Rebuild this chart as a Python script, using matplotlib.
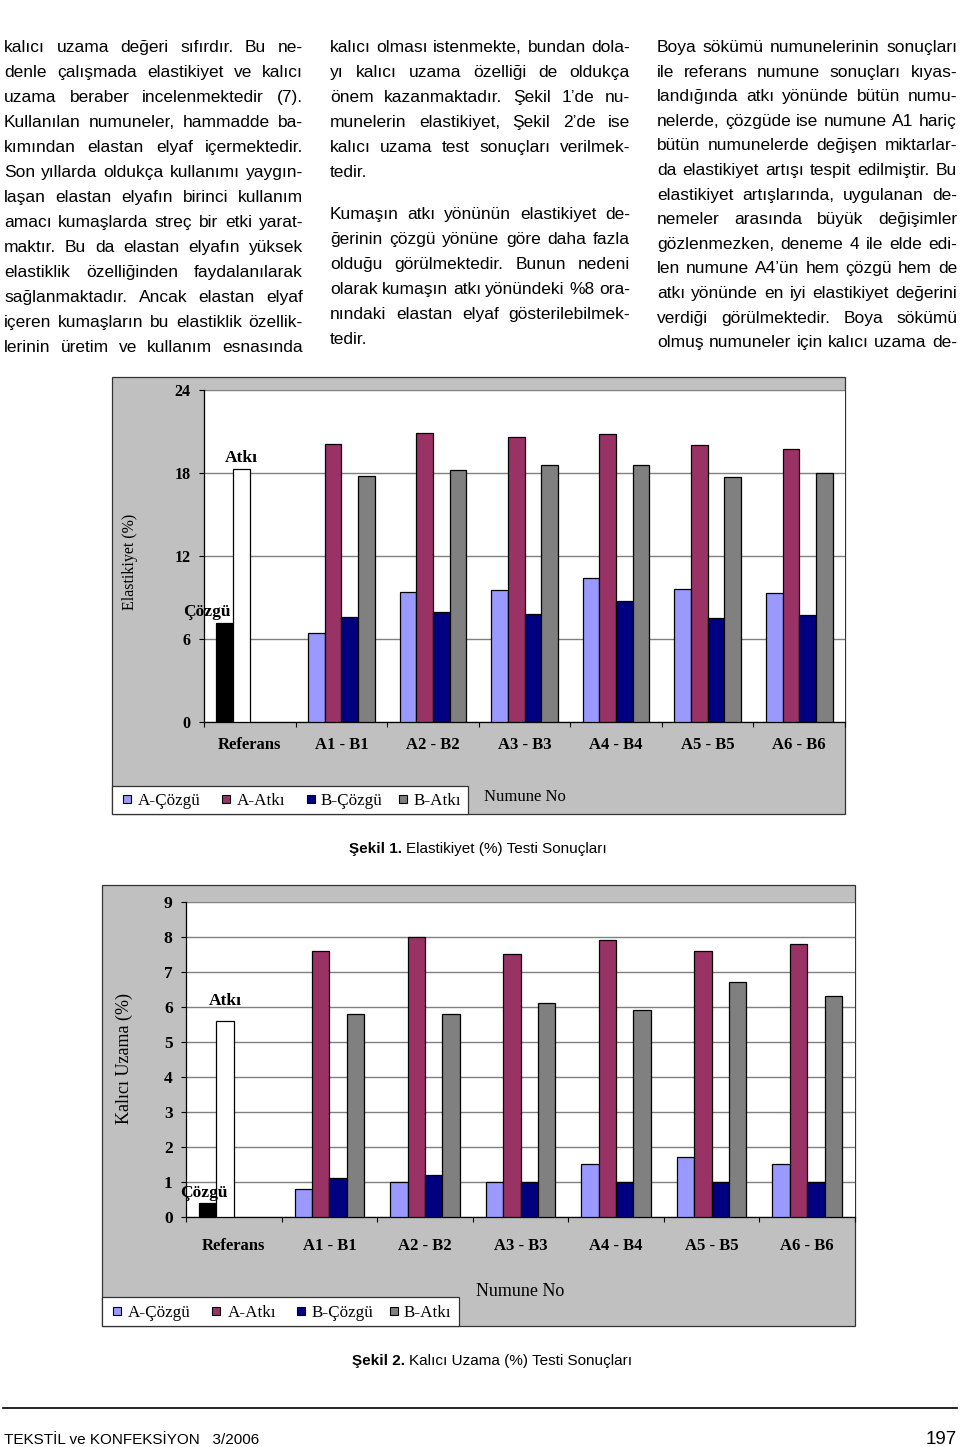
import numpy as np
import matplotlib
matplotlib.use("Agg")
import matplotlib.pyplot as plt
from matplotlib.patches import Rectangle
from matplotlib.lines import Line2D
from matplotlib.font_manager import FontProperties, fontManager

# ---------------- data ----------------
categories = ["Referans", "A1 - B1", "A2 - B2", "A3 - B3", "A4 - B4", "A5 - B5", "A6 - B6"]
series_names = ["A-Çözgü", "A-Atkı", "B-Çözgü", "B-Atkı"]
series_colors = ["#9999FF", "#993366", "#000080", "#808080"]

# Şekil 1 – Elastikiyet (%)
elast_ref_cozgu = 7.1
elast_ref_atki = 18.3
elast_a_cozgu = [6.4, 9.4, 9.5, 10.4, 9.6, 9.3]
elast_a_atki = [20.1, 20.9, 20.6, 20.8, 20.0, 19.7]
elast_b_cozgu = [7.6, 7.9, 7.8, 8.7, 7.5, 7.7]
elast_b_atki = [17.8, 18.2, 18.6, 18.6, 17.7, 18.0]
elast_yticks = [0, 6, 12, 18, 24]

# Şekil 2 – Kalıcı Uzama (%)
kalici_ref_cozgu = 0.4
kalici_ref_atki = 5.6
kalici_a_cozgu = [0.8, 1.0, 1.0, 1.5, 1.7, 1.5]
kalici_a_atki = [7.6, 8.0, 7.5, 7.9, 7.6, 7.8]
kalici_b_cozgu = [1.1, 1.2, 1.0, 1.0, 1.0, 1.0]
kalici_b_atki = [5.8, 5.8, 6.1, 5.9, 6.7, 6.3]
kalici_yticks = list(range(0, 10))

col1 = [
    "kalıcı uzama değeri sıfırdır. Bu ne-",
    "denle çalışmada elastikiyet ve kalıcı",
    "uzama beraber incelenmektedir (7).",
    "Kullanılan numuneler, hammadde ba-",
    "kımından elastan elyaf içermektedir.",
    "Son yıllarda oldukça kullanımı yaygın-",
    "laşan elastan elyafın birinci kullanım",
    "amacı kumaşlarda streç bir etki yarat-",
    "maktır. Bu da elastan elyafın yüksek",
    "elastiklik özelliğinden faydalanılarak",
    "sağlanmaktadır. Ancak elastan elyaf",
    "içeren kumaşların bu elastiklik özellik-",
    "lerinin üretim ve kullanım esnasında",
]
col2a = [
    "kalıcı olması istenmekte, bundan dola-",
    "yı kalıcı uzama özelliği de oldukça",
    "önem kazanmaktadır. Şekil 1’de nu-",
    "munelerin elastikiyet, Şekil 2’de ise",
    "kalıcı uzama test sonuçları verilmek-",
    "tedir.",
]
col2b = [
    "Kumaşın atkı yönünün elastikiyet de-",
    "ğerinin çözgü yönüne göre daha fazla",
    "olduğu görülmektedir. Bunun nedeni",
    "olarak kumaşın atkı yönündeki %8 ora-",
    "nındaki elastan elyaf gösterilebilmek-",
    "tedir.",
]
col3 = [
    "Boya sökümü numunelerinin sonuçları",
    "ile referans numune sonuçları kıyas-",
    "landığında atkı yönünde bütün numu-",
    "nelerde, çözgüde ise numune A1 hariç",
    "bütün numunelerde değişen miktarlar-",
    "da elastikiyet artışı tespit edilmiştir. Bu",
    "elastikiyet artışlarında, uygulanan de-",
    "nemeler arasında büyük değişimler",
    "gözlenmezken, deneme 4 ile elde edi-",
    "len numune A4’ün hem çözgü hem de",
    "atkı yönünde en iyi elastikiyet değerini",
    "verdiği görülmektedir. Boya sökümü",
    "olmuş numuneler için kalıcı uzama de-",
]

# ---------------- figure ----------------
W, H = 960, 1447
fig = plt.figure(figsize=(W / 100, H / 100), dpi=100)
fig.patch.set_facecolor("white")
renderer = fig.canvas.get_renderer()

SANS = "Liberation Sans"
SERIF = "Liberation Serif"
names = {f.name for f in fontManager.ttflist}
NARROW = "Liberation Sans Narrow" if "Liberation Sans Narrow" in names else None


def fx(x):
    return x / W


def fy(y):
    return 1 - y / H


def tw(s, fp):
    w, h, d = renderer.get_text_width_height_descent(s, fp, ismath=False)
    return w


body_fp = FontProperties(family=SANS, size=12.5)


def draw_lines(lines, x0, x1, ys, justify_last=True):
    n = len(lines)
    for i, (line, y) in enumerate(zip(lines, ys)):
        words = line.split(" ")
        last = (i == n - 1) and not justify_last
        widths = [tw(wd, body_fp) for wd in words]
        if len(words) > 1 and not last:
            gap = (x1 - x0 - sum(widths)) / (len(words) - 1)
        else:
            gap = tw("a b", body_fp) - tw("ab", body_fp)
        x = x0
        for wd, wdt in zip(words, widths):
            fig.text(fx(x), fy(y), wd, fontproperties=body_fp, ha="left",
                     va="baseline", color="black")
            x += wdt + gap


base_off = 6
draw_lines(col1, 4, 303, [46 + 25 * i + base_off for i in range(13)])
draw_lines(col2a, 330, 630, [46 + 25 * i + base_off for i in range(6)], justify_last=False)
draw_lines(col2b, 330, 630, [213 + 25 * i + base_off for i in range(6)], justify_last=False)
draw_lines(col3, 657, 957, [46 + 24.6 * i + base_off for i in range(13)])


# ---------------- charts ----------------
def make_chart(panel, plot, ref_c, ref_a, a_c, a_a, b_c, b_a, yticks, ylabel,
               ylabel_pos, ylabel_size, tick_size, legend_box, legend_sq, legend_tx,
               legend_y, numune_pos, numune_size, atki_off, cozgu_off, xpad):
    px0, py0, px1, py1 = panel
    fig.add_artist(Rectangle((fx(px0), fy(py1)), fx(px1 - px0), (py1 - py0) / H,
                             transform=fig.transFigure, facecolor="#C0C0C0",
                             edgecolor="#333333", lw=0.9, zorder=-5))
    l, t, r, b = plot
    ax = fig.add_axes([fx(l), fy(b), fx(r - l), (b - t) / H])
    ax.set_facecolor("white")
    w = 1 / 5.5
    groups = np.arange(1, len(categories))
    all_series = [a_c, a_a, b_c, b_a]
    for i, (vals, col) in enumerate(zip(all_series, series_colors)):
        ax.bar(groups + (i - 1.5) * w, vals, width=w, color=col, edgecolor="black",
               lw=0.9, zorder=3)
    # reference bars (Çözgü black, Atkı white) in the first two slots
    ax.bar([0 - 1.5 * w], [ref_c], width=w, color="black", edgecolor="black", lw=0.9, zorder=3)
    ax.bar([0 - 0.5 * w], [ref_a], width=w, color="white", edgecolor="black", lw=0.9, zorder=3)
    ann_fp = FontProperties(family=SERIF, weight="bold", size=12.5)
    ax.annotate("Atkı", xy=(0 - 0.5 * w, ref_a), xytext=atki_off, textcoords="offset points",
                ha="center", va="baseline", fontproperties=ann_fp, zorder=5)
    ax.annotate("Çözgü", xy=(0 - 1.5 * w, ref_c), xytext=cozgu_off, textcoords="offset points",
                ha="center", va="baseline", fontproperties=ann_fp, zorder=5)

    ax.set_xlim(-0.5, len(categories) - 0.5)
    ax.set_ylim(yticks[0], yticks[-1])
    ax.set_yticks(yticks)
    ax.set_yticklabels([str(v) for v in yticks])
    for lab in ax.get_yticklabels():
        lab.set_fontproperties(FontProperties(family=SERIF, weight="bold", size=tick_size))
    ax.yaxis.grid(True, color="#808080", lw=1.0, zorder=1)
    ax.set_axisbelow(True)
    ax.tick_params(axis="y", direction="out", length=3.6, width=0.8, pad=6, colors="black")
    ax.set_xticks(np.arange(-0.5, len(categories), 1.0))
    ax.set_xticklabels([])
    ax.set_xticks(np.arange(len(categories)), minor=True)
    ax.set_xticklabels(categories, minor=True)
    for lab in ax.get_xticklabels(minor=True):
        lab.set_fontproperties(FontProperties(family=SERIF, weight="bold", size=12))
    ax.tick_params(axis="x", which="major", direction="out", length=3.6, width=0.8)
    ax.tick_params(axis="x", which="minor", length=0, pad=xpad)
    for s in ["top", "right"]:
        ax.spines[s].set_visible(False)
    for s in ["left", "bottom"]:
        ax.spines[s].set_color("black")
        ax.spines[s].set_linewidth(0.9)

    fig.text(fx(ylabel_pos[0]), fy(ylabel_pos[1]), ylabel, rotation=90, ha="center",
             va="center", fontproperties=FontProperties(family=SERIF, size=ylabel_size))

    # legend
    lx0, ly0, lx1, ly1 = legend_box
    fig.add_artist(Rectangle((fx(lx0), fy(ly1)), fx(lx1 - lx0), (ly1 - ly0) / H,
                             transform=fig.transFigure, facecolor="white",
                             edgecolor="#333333", lw=0.9, zorder=2))
    sq = 8
    leg_fp = FontProperties(family=SERIF, size=12.3)
    for name, col, sx, tx in zip(series_names, series_colors, legend_sq, legend_tx):
        fig.add_artist(Rectangle((fx(sx - sq / 2), fy(legend_y + sq / 2)), sq / W, sq / H,
                                 transform=fig.transFigure, facecolor=col,
                                 edgecolor="black", lw=0.8, zorder=3))
        fig.text(fx(tx), fy(legend_y), name, ha="left", va="center_baseline",
                 fontproperties=leg_fp, zorder=3)
    fig.text(fx(numune_pos[0]), fy(numune_pos[1]), "Numune No", ha="center",
             va="center_baseline", fontproperties=FontProperties(family=SERIF, size=numune_size))
    return ax


make_chart(panel=(111.5, 377, 845, 813.5), plot=(204, 390, 845, 721.5),
           ref_c=elast_ref_cozgu, ref_a=elast_ref_atki,
           a_c=elast_a_cozgu, a_a=elast_a_atki, b_c=elast_b_cozgu, b_a=elast_b_atki,
           yticks=elast_yticks, ylabel="Elastikiyet (%)", ylabel_pos=(130, 562),
           ylabel_size=11.5, tick_size=11.5,
           legend_box=(111.5, 786, 468, 813.5), legend_sq=(127, 226, 311, 403),
           legend_tx=(138, 237, 321, 414), legend_y=799, numune_pos=(525, 795),
           numune_size=12, atki_off=(0, 4.5), cozgu_off=(-13, 5.5), xpad=11.5)

make_chart(panel=(102, 885, 855, 1326), plot=(186, 901.5, 855, 1217),
           ref_c=kalici_ref_cozgu, ref_a=kalici_ref_atki,
           a_c=kalici_a_cozgu, a_a=kalici_a_atki, b_c=kalici_b_cozgu, b_a=kalici_b_atki,
           yticks=kalici_yticks, ylabel="Kalıcı Uzama (%)", ylabel_pos=(124, 1058),
           ylabel_size=13, tick_size=12.5,
           legend_box=(102, 1297, 459, 1326), legend_sq=(117, 216, 301, 394),
           legend_tx=(128, 228, 312, 404), legend_y=1311, numune_pos=(520, 1290),
           numune_size=13, atki_off=(0, 11.5), cozgu_off=(-3, 4.5), xpad=15)


# captions
def caption(bold, rest, cx, y):
    bfp = FontProperties(family=SANS, weight="bold", size=11)
    rfp = FontProperties(family=SANS, size=11)
    wb = tw(bold + " ", bfp)
    wr = tw(rest, rfp)
    x0 = cx - (wb + wr) / 2
    fig.text(fx(x0), fy(y), bold, ha="left", va="center_baseline", fontproperties=bfp)
    fig.text(fx(x0 + wb), fy(y), rest, ha="left", va="center_baseline", fontproperties=rfp)


caption("Şekil 1.", "Elastikiyet (%) Testi Sonuçları", 478, 848)
caption("Şekil 2.", "Kalıcı Uzama (%) Testi Sonuçları", 492, 1360)

# footer
fig.add_artist(Line2D([fx(3), fx(957)], [fy(1408), fy(1408)], transform=fig.transFigure,
                      color="black", lw=1.2))
if NARROW:
    ffp = FontProperties(family=NARROW, size=13)
    pfp = FontProperties(family=NARROW, size=16)
else:
    ffp = FontProperties(family=SANS, size=11)
    pfp = FontProperties(family=SANS, size=13.5)
fig.text(fx(4), fy(1438), "TEKSTİL ve KONFEKSİYON   3/2006", ha="left",
         va="center_baseline", fontproperties=ffp)
fig.text(fx(957), fy(1437), "197", ha="right", va="center_baseline", fontproperties=pfp)

fig.savefig("out.png", dpi=100)
